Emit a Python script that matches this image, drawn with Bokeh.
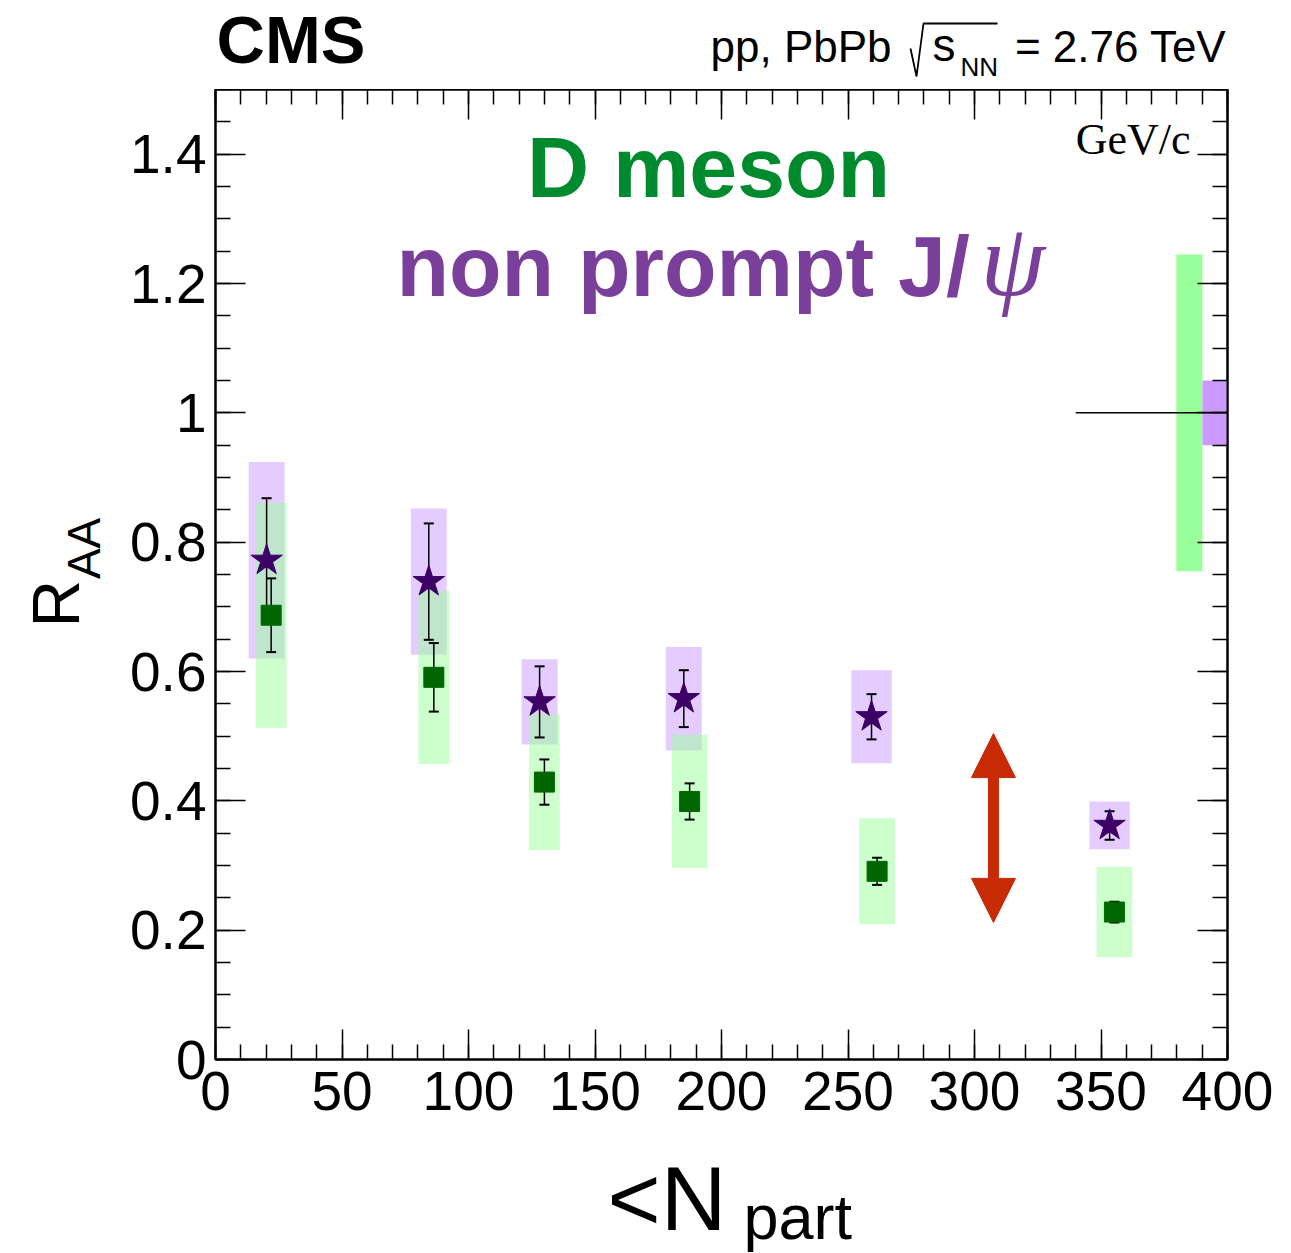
from bokeh.plotting import figure
from bokeh.layouts import column, row
from bokeh.models import (FixedTicker, LinearAxis, Label, Arrow, NormalHead,
                          Range1d, ColumnDataSource)
from bokeh.embed import file_html
from bokeh.resources import INLINE

# ---------------- data ----------------
npart_jpsi = [20.2, 84.3, 128.1, 185.1, 259.3, 353.4]
raa_jpsi = [0.772, 0.739, 0.553, 0.558, 0.530, 0.362]
stat_jpsi = [0.096, 0.090, 0.055, 0.044, 0.035, 0.022]
syst_jpsi = [0.152, 0.113, 0.066, 0.080, 0.072, 0.037]
boxhw_jpsi = [7.1, 7.1, 7.1, 7.1, 8.0, 8.0]

npart_d = [22.0, 86.3, 130.0, 187.4, 261.5, 355.3]
raa_d = [0.687, 0.591, 0.429, 0.399, 0.291, 0.228]
stat_d = [0.057, 0.053, 0.035, 0.028, 0.021, 0.016]
syst_d = [0.174, 0.134, 0.105, 0.103, 0.082, 0.070]
boxhw_d = [6.1, 6.1, 6.1, 7.05, 7.05, 7.05]

# global uncertainties (boxes at unity on the right)
global_d = [379.8, 390.1, 0.245]      # x-left, x-right, half height
global_jpsi = [390.1, 400.0, 0.05]
unity_line = [340.0, 400.0, 1.0]

# double arrow
arrow_x = 307.5
arrow_y = [0.212, 0.504]

x_ticks = [0, 50, 100, 150, 200, 250, 300, 350, 400]
x_minor = list(range(0, 401, 10))
y_ticks = [0, 0.2, 0.4, 0.6, 0.8, 1.0, 1.2, 1.4]
y_tick_labels = ["0", "0.2", "0.4", "0.6", "0.8", "1", "1.2", "1.4"]
y_minor = [round(i * 0.05, 2) for i in range(0, 31)]

# ---------------- layout sizes (page pixels) ----------------
TOTAL_W = 1283
HEAD_H = 89          # header strip above the frame
LEFT_W = 110         # strip holding the y title
MAIN_H = 1060        # frame (970) + bottom border (90)
FOOT_H = 104         # strip holding the x title
FRAME_L, FRAME_R, FRAME_T, FRAME_B = 215, 1227, 89, 1059

FONT = "Liberation Sans"
SERIF = "Liberation Serif"
K_SANS = 0.37
K_SERIF = 0.32
ROT_SHIFT = 55       # empirical offset for rotated labels


def blank_fig(w, h, xr, yr):
    f = figure(width=w, height=h, x_range=Range1d(*xr), y_range=Range1d(*yr),
               output_backend="svg", toolbar_location=None,
               x_axis_type=None, y_axis_type=None, min_border=0)
    f.outline_line_color = None
    f.background_fill_color = "white"
    f.border_fill_color = "white"
    return f


def add_text(f, text, x, baseline_y, size, align="left", color="black", font=FONT,
             style="normal", angle=0, k=K_SANS):
    """Place text by its alphabetic baseline (page-pixel coordinates, y down)."""
    if angle == 0:
        yy = baseline_y - k * size
        xx = x
    else:
        yy = baseline_y + ROT_SHIFT
        xx = x - k * size
    f.add_layout(Label(x=xx, y=yy, text=text, text_font=font,
                       text_font_size=f"{size}px", text_font_style=style,
                       text_color=color, text_align=align, text_baseline="middle",
                       angle=angle, angle_units="deg"))


# ---------------- header ----------------
head = blank_fig(TOTAL_W, HEAD_H, (0, TOTAL_W), (HEAD_H, 0))
add_text(head, "CMS", 216, 64, 67, style="bold")
add_text(head, "pp, PbPb", 710, 62, 44)
add_text(head, "s", 932, 62, 46)
add_text(head, "NN", 960, 76, 26)
add_text(head, "= 2.76 TeV", 1226, 62, 44, align="right")
head.line(x=[910, 916, 923, 997], y=[48, 76, 23, 23], line_color="black", line_width=1.8)

# ---------------- left strip (y title) ----------------
left = blank_fig(LEFT_W, MAIN_H, (0, LEFT_W), (HEAD_H + MAIN_H, HEAD_H))
add_text(left, "R", 80, 622, 66, angle=90)
add_text(left, "AA", 101, 569, 46, angle=90)

# ---------------- footer (x title) ----------------
Y0F = HEAD_H + MAIN_H
foot = blank_fig(TOTAL_W, FOOT_H, (0, TOTAL_W), (Y0F + FOOT_H, Y0F))
add_text(foot, "<N", 607, 1232, 91)
add_text(foot, "part", 743, 1240, 63)

# ---------------- main figure ----------------
p = figure(width=TOTAL_W - LEFT_W, height=MAIN_H,
           x_range=Range1d(0, 400), y_range=Range1d(0, 1.5),
           output_backend="svg", toolbar_location=None,
           x_axis_type=None, y_axis_type=None,
           min_border_left=FRAME_L - LEFT_W, min_border_right=TOTAL_W - FRAME_R,
           min_border_top=0, min_border_bottom=HEAD_H + MAIN_H - FRAME_B)
p.outline_line_color = "black"
p.outline_line_width = 2
p.background_fill_color = "white"
p.border_fill_color = "white"


def make_axis(ticker, labels=True, overrides=None, standoff=10):
    ax = LinearAxis(ticker=ticker)
    ax.axis_line_width = 2
    ax.axis_line_color = "black"
    ax.major_tick_in = 30
    ax.major_tick_out = 0
    ax.minor_tick_in = 15
    ax.minor_tick_out = 0
    ax.major_tick_line_width = 1.5
    ax.minor_tick_line_width = 1.5
    ax.major_tick_line_color = "black"
    ax.minor_tick_line_color = "black"
    if labels:
        ax.major_label_text_font = FONT
        ax.major_label_text_font_size = "55px"
        ax.major_label_text_color = "black"
        ax.major_label_standoff = standoff
        if overrides:
            ax.major_label_overrides = overrides
    else:
        ax.major_label_text_font_size = "0px"
        ax.major_label_standoff = 0
        ax.major_label_overrides = {v: "" for v in ticker.ticks}
    return ax


xt = FixedTicker(ticks=x_ticks, minor_ticks=x_minor)
yt = FixedTicker(ticks=y_ticks, minor_ticks=y_minor)
p.add_layout(make_axis(xt, True, standoff=12), "below")
p.add_layout(make_axis(xt, False), "above")
p.add_layout(make_axis(yt, True, overrides={v: s for v, s in zip(y_ticks, y_tick_labels)},
                       standoff=9), "left")
p.add_layout(make_axis(yt, False), "right")

src_j = ColumnDataSource(dict(
    x=npart_jpsi, y=raa_jpsi,
    lo=[v - e for v, e in zip(raa_jpsi, stat_jpsi)],
    hi=[v + e for v, e in zip(raa_jpsi, stat_jpsi)],
    bl=[x - w for x, w in zip(npart_jpsi, boxhw_jpsi)],
    br=[x + w for x, w in zip(npart_jpsi, boxhw_jpsi)],
    bb=[v - s for v, s in zip(raa_jpsi, syst_jpsi)],
    bt=[v + s for v, s in zip(raa_jpsi, syst_jpsi)],
))
src_d = ColumnDataSource(dict(
    x=npart_d, y=raa_d,
    lo=[v - e for v, e in zip(raa_d, stat_d)],
    hi=[v + e for v, e in zip(raa_d, stat_d)],
    bl=[x - w for x, w in zip(npart_d, boxhw_d)],
    br=[x + w for x, w in zip(npart_d, boxhw_d)],
    bb=[v - s for v, s in zip(raa_d, syst_d)],
    bt=[v + s for v, s in zip(raa_d, syst_d)],
))

# systematic boxes
p.quad(left="bl", right="br", bottom="bb", top="bt", source=src_j,
       fill_color="#cc99ff", fill_alpha=0.5, line_color=None)
p.quad(left="bl", right="br", bottom="bb", top="bt", source=src_d,
       fill_color="#99ff99", fill_alpha=0.5, line_color=None)

# global boxes
p.quad(left=[global_d[0]], right=[global_d[1]], bottom=[1 - global_d[2]],
       top=[1 + global_d[2]], fill_color="#99ff99", line_color=None)
p.quad(left=[global_jpsi[0]], right=[global_jpsi[1]], bottom=[1 - global_jpsi[2]],
       top=[1 + global_jpsi[2]], fill_color="#cc99ff", line_color=None)
p.segment(x0=[unity_line[0]], x1=[unity_line[1]], y0=[unity_line[2]], y1=[unity_line[2]],
          line_color="black", line_width=1.5)

STAR = "#3c0066"
SQ = "#006600"

p.segment(x0="x", x1="x", y0="lo", y1="hi", source=src_j, line_color="black", line_width=1.5)
p.scatter(x="x", y="lo", source=src_j, marker="dash", size=10, line_color="black", line_width=2)
p.scatter(x="x", y="hi", source=src_j, marker="dash", size=10, line_color="black", line_width=2)
p.scatter(x="x", y="y", source=src_j, marker="star", size=33, fill_color=STAR,
          line_color=STAR, line_width=1)

p.segment(x0="x", x1="x", y0="lo", y1="hi", source=src_d, line_color="black", line_width=1.5)
p.scatter(x="x", y="lo", source=src_d, marker="dash", size=10, line_color="black", line_width=2)
p.scatter(x="x", y="hi", source=src_d, marker="dash", size=10, line_color="black", line_width=2)
p.scatter(x="x", y="y", source=src_d, marker="square", size=20, fill_color=SQ,
          line_color=SQ, line_width=1)

RED = "#c92a06"
p.add_layout(Arrow(x_start=arrow_x, y_start=arrow_y[0], x_end=arrow_x, y_end=arrow_y[1],
                   line_color=RED, line_width=11,
                   start=NormalHead(size=44, fill_color=RED, line_color=RED, line_width=1),
                   end=NormalHead(size=44, fill_color=RED, line_color=RED, line_width=1)))


# texts inside the frame: page pixels -> data
def X(px):
    return (px - FRAME_L) * 400.0 / (FRAME_R - FRAME_L)


def Y(py):
    return (FRAME_B - py) * 1.5 / (FRAME_B - FRAME_T)


def lab(text, px, base_py, size, align="left", color="black", font=FONT, style="normal",
        k=K_SANS):
    p.add_layout(Label(x=X(px), y=Y(base_py - k * size), text=text, text_font=font,
                       text_font_size=f"{size}px", text_font_style=style,
                       text_color=color, text_align=align, text_baseline="middle"))


GREEN_T = "#008a2e"
PURP_T = "#7a3f9a"
lab("D meson", 708, 198, 86, align="center", color=GREEN_T, style="bold")
lab("non prompt J/", 396, 297, 86, color=PURP_T, style="bold")
lab("\u03c8", 980, 292, 104, color=PURP_T, font=SERIF, style="italic", k=K_SERIF)
lab("GeV/c", 1190, 153, 44, align="right", font=SERIF, k=K_SERIF)

layout = column(head, row(left, p), foot)
open("out.html", "w").write(file_html(layout, INLINE))
